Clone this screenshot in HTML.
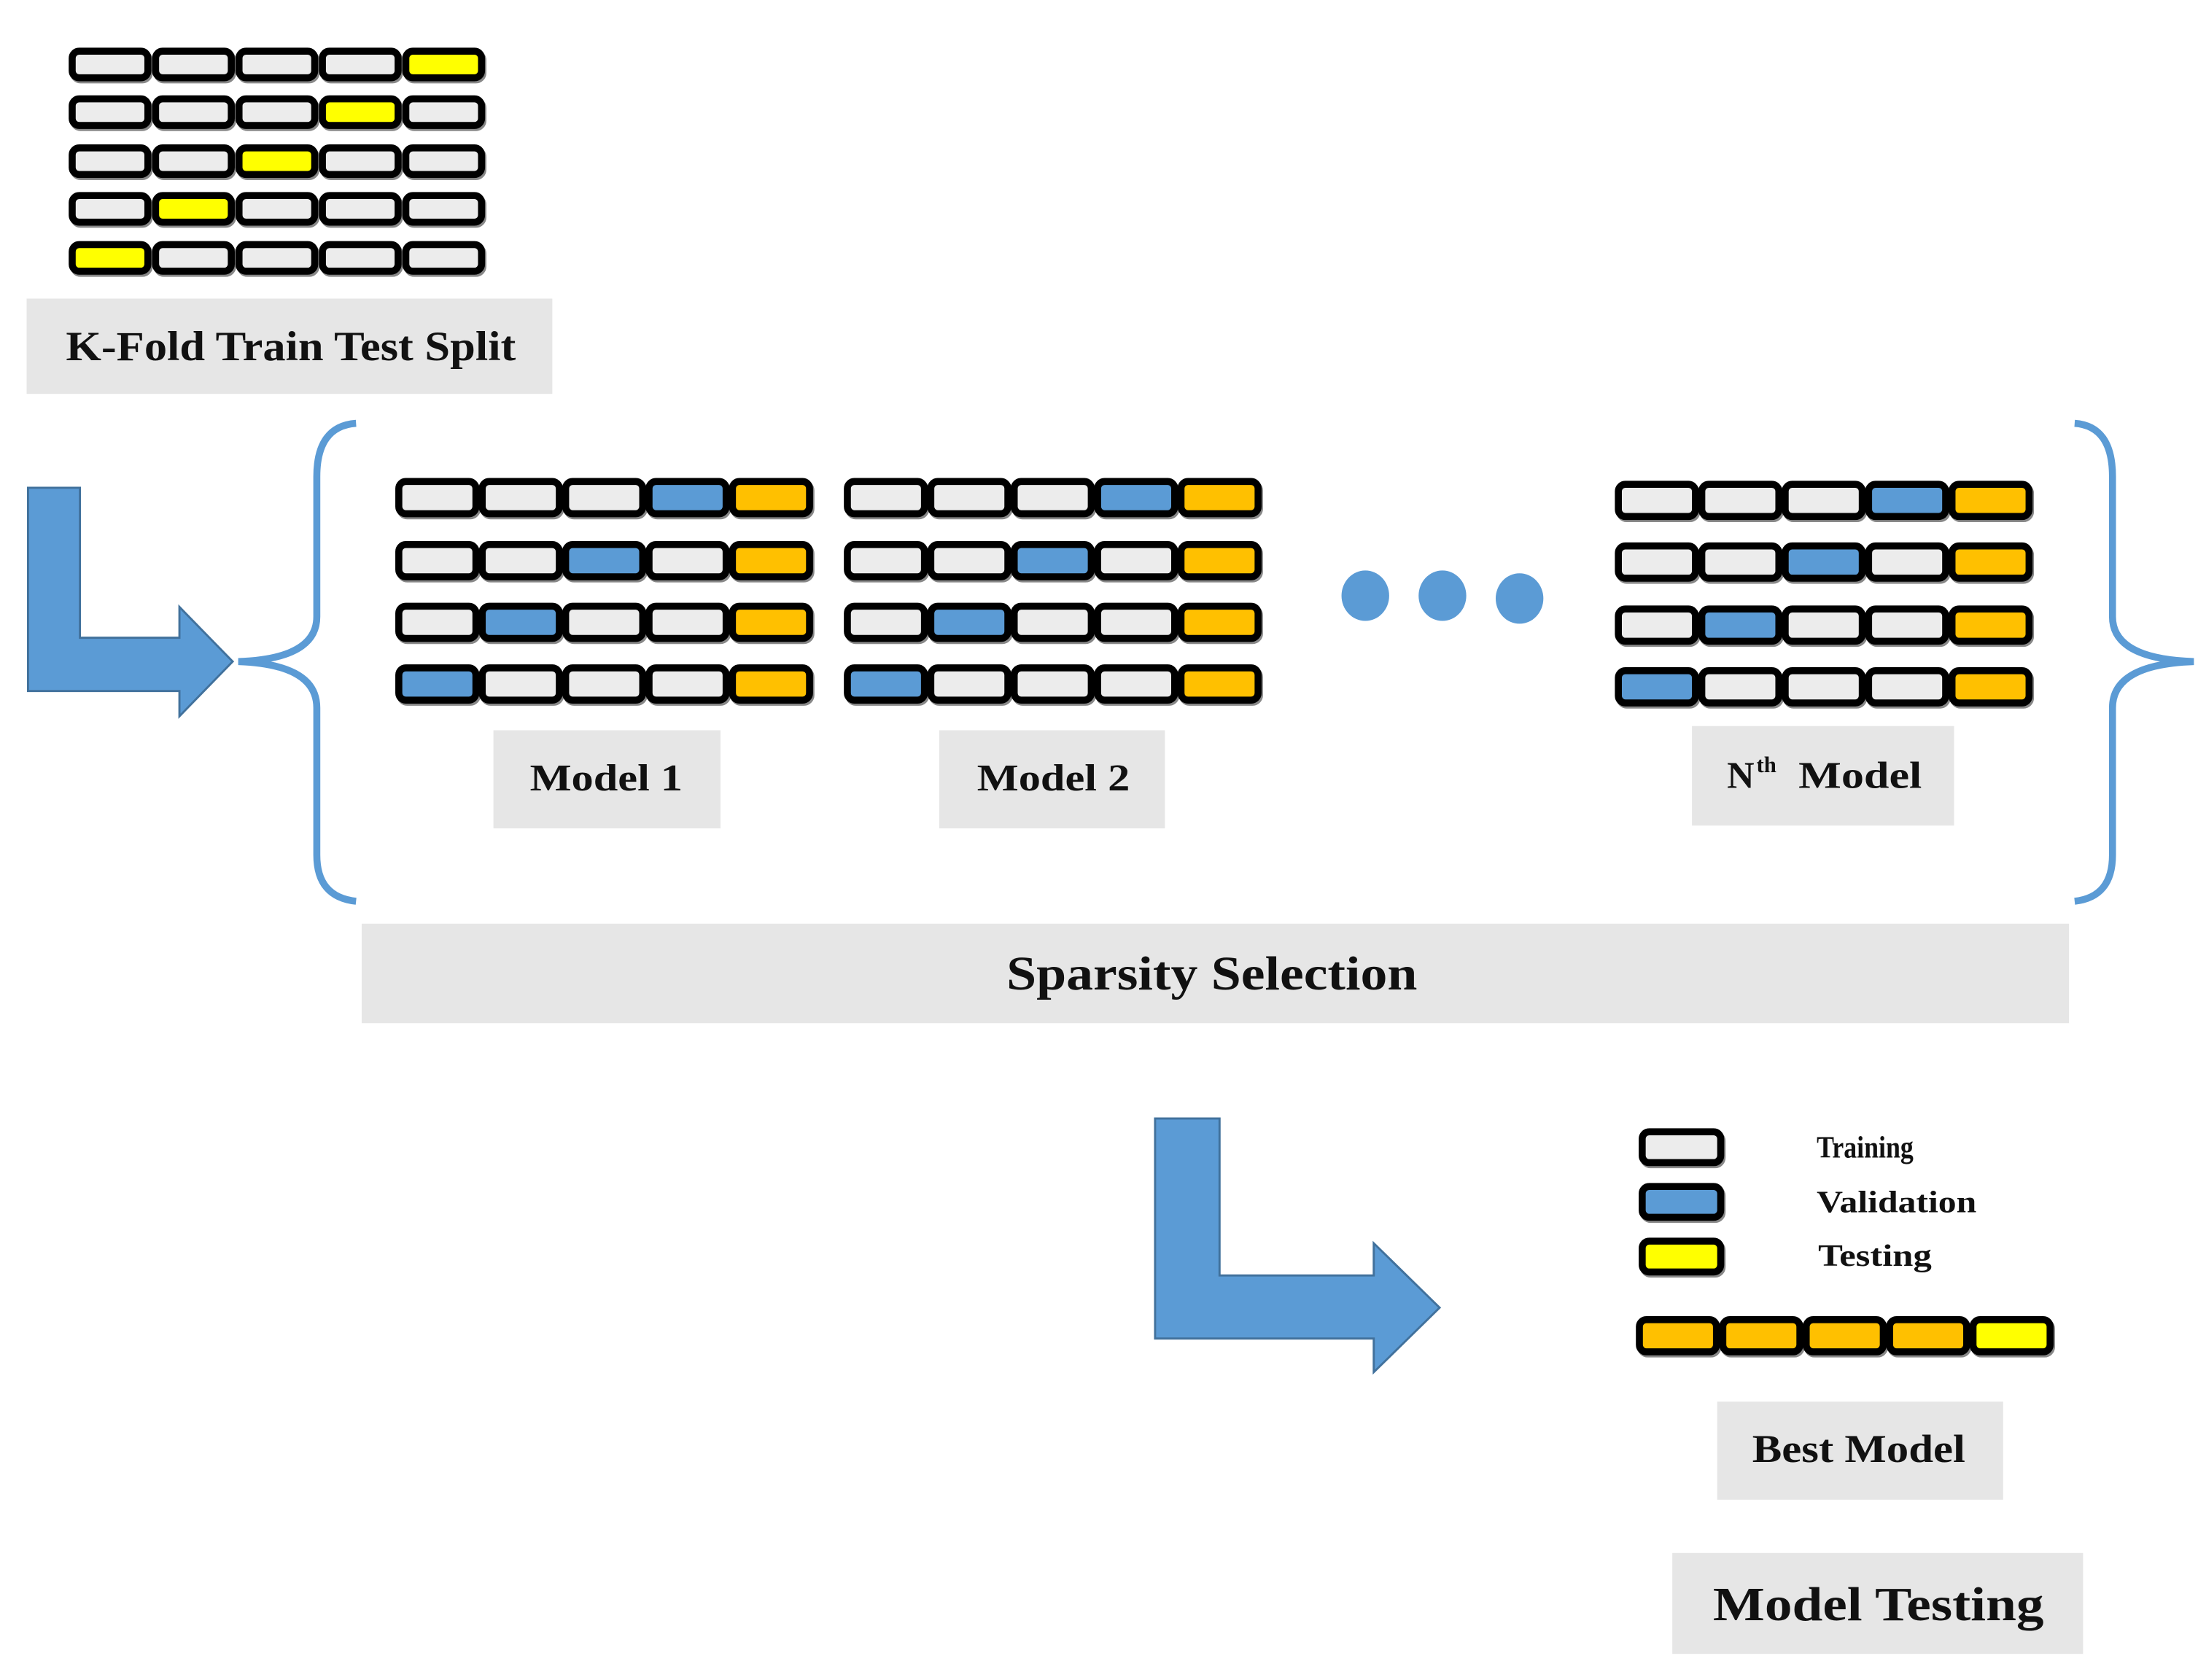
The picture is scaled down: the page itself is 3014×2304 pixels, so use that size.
<!DOCTYPE html>
<html><head><meta charset="utf-8"><style>
html,body{margin:0;padding:0;background:#fff;}
svg{display:block;}
text{font-family:"Liberation Serif",serif;font-weight:bold;fill:#111;}
</style></head><body>
<svg id="s" width="3014" height="2304" viewBox="0 0 1568 1198.6" xmlns="http://www.w3.org/2000/svg">
<rect x="0" y="0" width="1568" height="1200" fill="#fff"/>
<g id="cells"></g>
<rect x="19" y="213" width="375" height="68" fill="#e6e6e6"/>
<text x="47" y="257" font-size="30" textLength="321" lengthAdjust="spacingAndGlyphs">K-Fold Train Test Split</text>
<rect x="352" y="521" width="162" height="70" fill="#e6e6e6"/>
<text x="378" y="564" font-size="27" textLength="109" lengthAdjust="spacingAndGlyphs">Model 1</text>
<rect x="670" y="521" width="161" height="70" fill="#e6e6e6"/>
<text x="697" y="564" font-size="27" textLength="109" lengthAdjust="spacingAndGlyphs">Model 2</text>
<rect x="1207" y="518" width="187" height="71" fill="#e6e6e6"/>
<text x="1232" y="562" font-size="27">N</text>
<text x="1253" y="551" font-size="16">th</text>
<text x="1283" y="562" font-size="27" textLength="88" lengthAdjust="spacingAndGlyphs">Model</text>
<rect x="258" y="659" width="1218" height="71" fill="#e6e6e6"/>
<text x="718" y="706" font-size="34" textLength="293" lengthAdjust="spacingAndGlyphs">Sparsity Selection</text>
<rect x="1225" y="1000" width="204" height="70" fill="#e6e6e6"/>
<text x="1250" y="1043" font-size="28" textLength="152" lengthAdjust="spacingAndGlyphs">Best Model</text>
<rect x="1193" y="1108" width="293" height="72" fill="#e6e6e6"/>
<text x="1222" y="1156" font-size="34" textLength="236" lengthAdjust="spacingAndGlyphs">Model Testing</text>
<text x="1296" y="826" font-size="22" textLength="69" lengthAdjust="spacingAndGlyphs">Training</text>
<text x="1296" y="865" font-size="22" textLength="114" lengthAdjust="spacingAndGlyphs">Validation</text>
<text x="1297" y="903" font-size="22" textLength="81" lengthAdjust="spacingAndGlyphs">Testing</text>
<path d="M20 348 H57 V455 H128 V433 L166 472 L128 511 V493 H20 Z" fill="#5b9bd5" stroke="#41719c" stroke-width="1.5"/>
<path d="M824 798 H870 V910 H980 V887 L1027 933 L980 979 V955 H824 Z" fill="#5b9bd5" stroke="#41719c" stroke-width="1.5"/>
<path d="M254 302 Q226 304 226 340 V440 Q226 470 170 472 Q226 474 226 505 V610 Q226 640 254 643" fill="none" stroke="#5b9bd5" stroke-width="5"/>
<path d="M1480 302 Q1507 304 1507 340 V440 Q1507 470 1565 472 Q1507 474 1507 505 V610 Q1507 640 1480 643" fill="none" stroke="#5b9bd5" stroke-width="5"/>
<ellipse cx="974" cy="425" rx="17" ry="18" fill="#5b9bd5"/>
<ellipse cx="1029" cy="425" rx="17" ry="18" fill="#5b9bd5"/>
<ellipse cx="1084" cy="427" rx="17" ry="18" fill="#5b9bd5"/>
</svg>
<script>
(function(){
var g=document.getElementById('cells'),NS='http://www.w3.org/2000/svg';
var C={g:'#ececec',y:'#ffff00',b:'#5b9bd5',o:'#ffc000'};
function cell(x,y,w,h,c){
  var sh=document.createElementNS(NS,'rect');
  sh.setAttribute('x',x+3.5);sh.setAttribute('y',y+4);sh.setAttribute('width',w-5);sh.setAttribute('height',h-5);
  sh.setAttribute('rx',5);sh.setAttribute('fill','none');sh.setAttribute('stroke','#888');sh.setAttribute('stroke-width',5);
  g.appendChild(sh);
  var r=document.createElementNS(NS,'rect');
  r.setAttribute('x',x+2.5);r.setAttribute('y',y+2.5);r.setAttribute('width',w-5);r.setAttribute('height',h-5);
  r.setAttribute('rx',5);r.setAttribute('fill',C[c]);r.setAttribute('stroke','#000');r.setAttribute('stroke-width',5);
  g.appendChild(r);
}
function row(x0,yc,pitch,w,h,pat){for(var i=0;i<pat.length;i++)cell(x0+i*pitch,yc-h/2,w,h,pat[i]);}
var tp=['ggggy','gggyg','ggygg','gyggg','ygggg'],ty=[46,80,115,149,184];
for(var i=0;i<5;i++)row(49,ty[i],59.5,59,24,tp[i]);
var mp=['gggbo','ggbgo','gbggo','bgggo'];
var m1=[355,400,444,488],mn=[357,401,446,490];
for(i=0;i<4;i++){row(282,m1[i],59.5,60,28,mp[i]);row(602,m1[i],59.5,60,28,mp[i]);row(1152,mn[i],59.5,60,28,mp[i]);}
cell(1169,805,61,27,'g');cell(1169,844,61,27,'b');cell(1169,883,61,27,'y');
row(1167,953,59.5,60,28,'ooooy');
})();
</script>
</body></html>
